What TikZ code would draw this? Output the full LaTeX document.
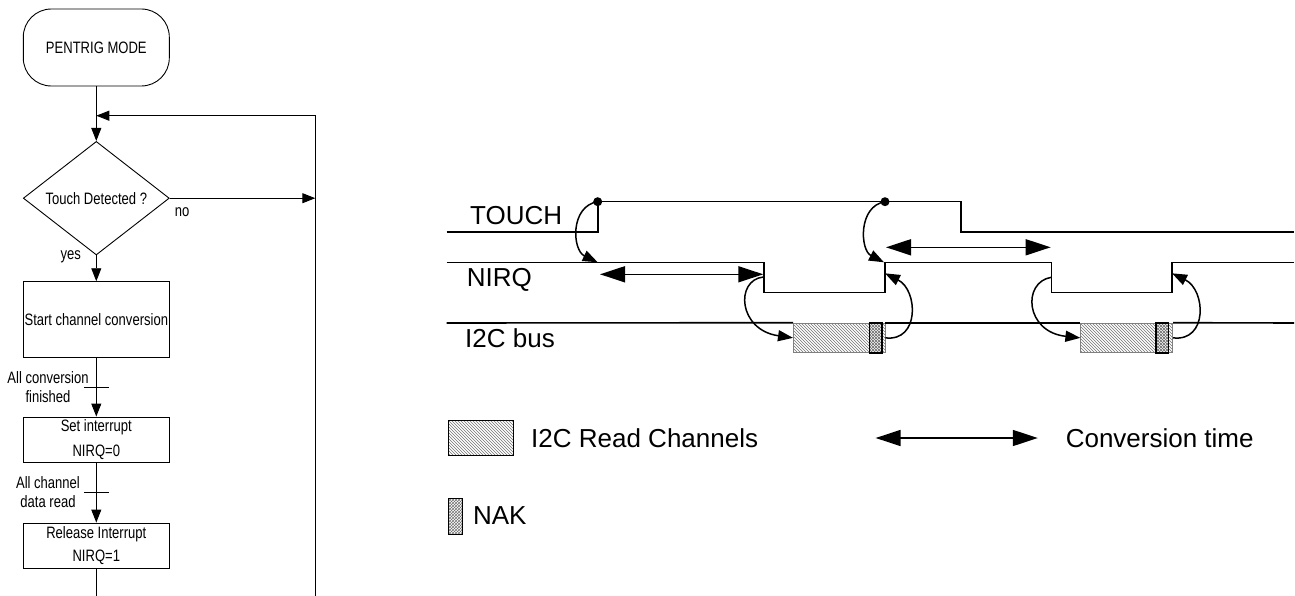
\documentclass[tikz,border=0pt]{standalone}
\usepackage{fontspec}
\setmainfont{Liberation Sans}
\newfontfamily\fcfont[FakeStretch=0.79]{Liberation Sans}
\usetikzlibrary{shapes.geometric,arrows.meta,patterns}
\begin{document}
\begin{tikzpicture}[x=1pt,y=-1pt,
  fc/.style={draw, line width=0.9pt, font=\fcfont\fontsize{16.5}{25}\selectfont, inner sep=0pt, align=center},
  fcline/.style={line width=0.9pt},
  fcarrow/.style={line width=0.9pt, -{Triangle[length=13pt,width=10pt]}},
  fclabel/.style={font=\fcfont\fontsize{16.5}{19}\selectfont, align=center, inner sep=0pt},
  sig/.style={line width=1.6pt},
  tlabel/.style={font=\fontsize{26}{30}\selectfont, anchor=west, inner sep=0pt},
  conv/.style={line width=1.5pt, {Triangle[length=25pt,width=16pt]}-{Triangle[length=25pt,width=16pt]}},
  cause/.style={line width=1.5pt, -{Triangle[length=15pt,width=11pt]}},
  readbox/.style={draw=gray, line width=0.6pt, pattern=north west lines, pattern color=black!55, inner sep=0pt},
  nakbox/.style={draw=black, line width=1.6pt, pattern=crosshatch, pattern color=black!55, inner sep=0pt},
]
\useasboundingbox (0,0) rectangle (1295,596);

% ---------------- flowchart ----------------
\node[fc, rounded corners=28pt, minimum width=146pt, minimum height=77pt] (start) at (96.3,47.5) {PENTRIG MODE};
\node[fc, diamond, minimum width=146pt, minimum height=105pt] (dec) at (96.3,198.2) {Touch Detected ?};
\node[fc, minimum width=146pt, minimum height=75.6pt] (conv) at (96.3,319.5) {Start channel conversion};
\node[fc, minimum width=146pt, minimum height=45.7pt] (set) at (96.3,439.85) {Set interrupt\\NIRQ=0};
\node[fc, minimum width=146pt, minimum height=45pt] (rel) at (96.3,545.5) {Release Interrupt\\[-1.6pt]NIRQ=1};

\coordinate (loopB) at (315.3,596);
\coordinate (loopT) at (315.3,115.7);
\coordinate (loopJ) at (96.3,115.7);
\coordinate (noEnd) at (315.3,198.2);
\coordinate (flowEnd) at (96.3,596);

\draw[fcarrow] (start.south) -- (dec.north);
\draw[fcarrow] (loopB) -- (loopT) -- (loopJ);
\draw[fcarrow] (dec.east) -- (noEnd);
\draw[fcarrow] (dec.south) -- (conv.north);
\draw[fcarrow] (conv.south) -- (set.north);
\draw[fcarrow] (set.south) -- (rel.north);
\draw[fcline] (rel.south) -- (flowEnd);

\node[fclabel] (no) at (182,211.7) {no};
\node[fclabel] (yes) at (70.7,256.7) {yes};

\coordinate (t1a) at (84,387);
\coordinate (t1b) at (108.7,387);
\draw[fcline] (t1a) -- (t1b);
\node[fclabel] (lab1) at (48,387.5) {All conversion\\finished};
\coordinate (t2a) at (84,492.3);
\coordinate (t2b) at (108.7,492.3);
\draw[fcline] (t2a) -- (t2b);
\node[fclabel] (lab2) at (48,492.5) {All channel\\data read};

% ---------------- timing diagram ----------------
\node[tlabel] (touchL) at (470,216) {TOUCH};
\node[tlabel] (nirqL) at (466.7,280) {NIRQ};
\node[tlabel] (busL) at (465,338) {I2C bus};

\coordinate (tR) at (597.7,201.7);
\coordinate (tR2) at (885,201.7);
\draw[sig] (446.7,232) -- (597.7,232) -- (tR) -- (960.7,201.7) -- (960.7,232) -- (1294,232);
\draw[sig] (446.7,262.3) -- (764,262.3) -- (764,292.3) -- (885,292.3) -- (885,262.3)
  -- (1051.3,262.3) -- (1051.3,292.3) -- (1172,292.3) -- (1172,262.3) -- (1294,262.3);

\node[readbox, minimum width=91.7pt, minimum height=29.7pt] (r1) at (839.15,337.85) {};
\node[readbox, minimum width=92pt, minimum height=29.7pt] (r2) at (1126.7,337.85) {};
\node[nakbox, minimum width=12.4pt, minimum height=29.7pt] (k1) at (875.5,337.85) {};
\node[nakbox, minimum width=12.3pt, minimum height=29.7pt] (k2) at (1162.15,337.85) {};
\coordinate (b0) at (446.7,323);
\coordinate (b9) at (1294,323);
\draw[sig] (b0) -- (r1.north west);
\draw[sig] (r1.north east) -- (r2.north west);
\draw[sig] (r2.north east) -- (b9);

\fill (tR) circle (4.5pt);
\fill (tR2) circle (4.5pt);

\coordinate (c1a) at (600,274.3);
\coordinate (c1b) at (763.3,274.3);
\coordinate (c2a) at (886,247.3);
\coordinate (c2b) at (1050.7,247.3);
\draw[conv] (c1a) -- (c1b);
\draw[conv] (c2a) -- (c2b);

\coordinate (nA) at (597.7,262.3);
\coordinate (nB) at (884,262.3);
\coordinate (nF1) at (763.3,277);
\coordinate (nR1) at (885,273.3);
\coordinate (nF2) at (1051.3,277.3);
\coordinate (nR2) at (1172,273.3);
\draw[cause] (tR) .. controls (570,206) and (572,250) .. (nA);
\draw[cause] (tR2) .. controls (858,206) and (860,250) .. (nB);
\draw[cause] (nF1) .. controls (735,280) and (738,330) .. (r1.west);
\draw[cause] (r1.east) .. controls (920,342) and (918,290) .. (nR1);
\draw[cause] (nF2) .. controls (1022,282) and (1025,332) .. (r2.west);
\draw[cause] (r2.east) .. controls (1208,342) and (1206,290) .. (nR2);

% ---------------- legend ----------------
\node[readbox, draw=black, minimum width=65pt, minimum height=35pt] (legR) at (480.5,438) {};
\node[tlabel] (legRt) at (531,438) {I2C Read Channels};
\coordinate (legA1) at (875.6,438);
\coordinate (legA2) at (1037.8,438);
\draw[conv] (legA1) -- (legA2);
\node[tlabel] (legAt) at (1065.6,438) {Conversion time};
\node[nakbox, line width=1pt, minimum width=14pt, minimum height=36pt] (legN) at (455,516) {};
\node[tlabel] (legNt) at (472.8,516) {NAK};
\end{tikzpicture}
\end{document}
